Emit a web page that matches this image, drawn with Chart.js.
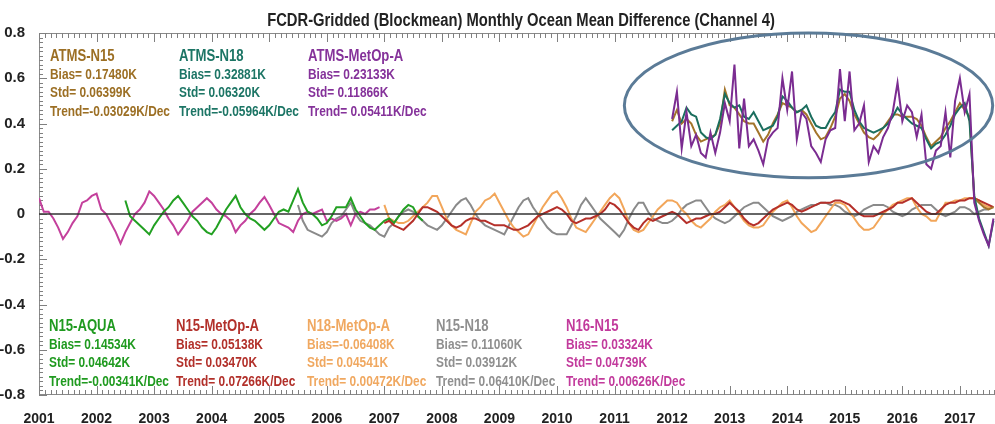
<!DOCTYPE html>
<html>
<head>
<meta charset="utf-8">
<script src="https://cdn.jsdelivr.net/npm/chart.js@4.4.1/dist/chart.umd.min.js"></script>
<style>
html, body { margin: 0; padding: 0; background: #fff; }
#wrap { width: 995px; height: 424px; }
</style>
</head>
<body>
<div id="wrap"><canvas id="diffChart"></canvas></div>
<script>
// axis ticks
const years = [2001,2002,2003,2004,2005,2006,2007,2008,2009,2010,2011,2012,2013,2014,2015,2016,2017];
const yTicks = [-0.8,-0.6,-0.4,-0.2,0,0.2,0.4,0.6,0.8];

// monthly series, index 0 = Jan 2001
const n16n15Start = 0;
const n16n15 = [0.07,0.01,0.01,-0.02,-0.06,-0.11,-0.08,-0.04,-0.01,0.05,0.06,0.08,
  0.09,0.02,0.0,-0.04,-0.08,-0.13,-0.08,-0.04,0.0,0.02,0.05,0.10,
  0.08,0.05,0.02,-0.02,-0.05,-0.09,-0.06,-0.03,0.01,0.03,0.05,0.07,
  0.05,0.02,0.0,-0.01,-0.03,-0.08,-0.05,-0.03,0.0,0.02,0.05,0.075,
  0.04,0.0,-0.04,-0.05,-0.06,-0.08,-0.03,0.0,0.01,0.0,0.01,0.02,
  -0.03,-0.02,-0.03,-0.02,0.0,-0.05,0.0,0.01,0.0,0.02,0.02,0.03];

const n15aquaStart = 18;
const n15aqua = [0.06,-0.01,-0.03,-0.05,-0.07,-0.09,-0.05,-0.02,0.01,0.03,0.06,0.08,
  0.05,0.02,-0.01,-0.03,-0.06,-0.08,-0.09,-0.06,-0.02,0.02,0.05,0.08,
  0.03,0.0,-0.02,-0.03,-0.05,-0.07,-0.05,-0.02,0.01,0.02,0.01,0.06,
  0.11,0.05,0.01,0.0,-0.02,-0.05,-0.04,-0.01,0.03,0.03,0.03,0.07,
  0.02,-0.01,-0.04,-0.06,-0.07,-0.05,-0.03,-0.02,-0.04,-0.01,0.02,0.04,
  0.03,-0.01,-0.03];

const n15n18Start = 54;
const n15n18 = [0.04,-0.03,-0.07,-0.08,-0.09,-0.10,-0.08,-0.04,-0.02,-0.01,0.02,0.05,
  0.0,-0.03,-0.04,-0.05,-0.07,-0.09,-0.10,-0.06,-0.04,-0.01,0.01,0.02,
  0.01,-0.01,-0.03,-0.05,-0.06,-0.07,-0.05,-0.02,0.01,0.04,0.06,0.07,
  0.04,0.0,-0.03,-0.05,-0.06,-0.07,-0.08,-0.09,-0.05,-0.01,0.03,0.06,
  0.07,0.03,0.0,-0.03,-0.06,-0.08,-0.09,-0.09,-0.09,-0.05,-0.01,0.04,
  0.07,0.04,0.01,-0.02,-0.04,-0.06,-0.08,-0.10,-0.07,-0.02,0.02,0.05,
  0.05,0.01,-0.02,-0.03,-0.04,-0.04,-0.03,-0.01,0.02,0.04,0.05,0.06,
  0.06,0.03,0.0,-0.02,-0.03,-0.04,-0.03,-0.01,0.01,0.03,0.04,0.05,
  0.05,0.03,0.01,-0.01,-0.02,-0.03,-0.02,-0.01,0.01,0.02,0.03,0.04,
  0.04,0.05,0.05,0.04,0.04,0.03,0.01,0.0,-0.01,0.0,0.02,0.03,
  0.04,0.04,0.04,0.03,0.01,0.0,-0.01,0.0,0.02,0.03,0.04,0.04,
  0.04,0.02,0.0,-0.01,0.0,0.01,0.03,0.03,0.02,0.0,0.01,0.02,0.02];

const n15metopaStart = 72;
const n15metopa = [-0.04,-0.03,-0.05,-0.06,-0.07,-0.05,-0.03,0.0,0.03,0.03,0.02,0.01,
  -0.01,-0.03,-0.05,-0.06,-0.05,-0.03,-0.02,-0.02,-0.03,-0.03,-0.04,-0.05,
  -0.05,-0.05,-0.06,-0.07,-0.07,-0.06,-0.05,-0.03,-0.01,0.0,0.01,0.02,
  0.03,0.02,0.0,-0.03,-0.04,-0.03,-0.02,-0.02,-0.01,0.0,0.02,0.05,
  0.04,0.02,-0.01,-0.04,-0.06,-0.07,-0.04,-0.02,-0.03,-0.02,-0.01,0.0,
  0.01,0.0,-0.02,-0.04,-0.03,-0.02,-0.02,-0.01,0.0,0.0,0.01,0.03,
  0.05,0.03,0.01,-0.02,-0.04,-0.05,-0.04,-0.02,0.0,0.02,0.03,0.04,
  0.05,0.04,0.02,0.01,0.02,0.03,0.04,0.05,0.05,0.05,0.06,0.06,
  0.05,0.04,0.02,0.0,-0.01,-0.01,-0.01,0.0,0.01,0.02,0.03,0.05,
  0.05,0.06,0.07,0.05,0.03,0.01,0.0,0.0,0.02,0.04,0.05,0.05,
  0.06,0.06,0.07,0.07,0.06,0.05,0.04,0.03];

const n18metopaStart = 72;
const n18metopa = [0.04,-0.02,-0.03,-0.04,-0.04,-0.03,-0.01,0.01,0.03,0.05,0.08,0.08,
  0.03,-0.02,-0.05,-0.07,-0.08,-0.09,-0.04,0.01,0.03,0.06,0.07,0.09,
  0.05,0.01,-0.03,-0.06,-0.08,-0.10,-0.09,-0.05,-0.01,0.03,0.06,0.09,
  0.10,0.07,0.03,-0.02,-0.06,-0.07,-0.08,-0.05,-0.02,0.01,0.04,0.07,
  0.09,0.07,0.02,-0.04,-0.07,-0.08,-0.07,-0.04,-0.01,0.02,0.04,0.06,
  0.06,0.05,0.02,0.0,-0.03,-0.05,-0.06,-0.04,-0.02,0.01,0.03,0.04,
  0.06,0.03,0.0,-0.03,-0.05,-0.06,-0.06,-0.05,-0.02,0.01,0.03,0.05,
  0.06,0.03,-0.01,-0.04,-0.06,-0.08,-0.07,-0.04,-0.01,0.02,0.05,0.05,
  0.04,0.01,-0.02,-0.05,-0.07,-0.07,-0.06,-0.03,0.0,0.02,0.04,0.05,
  0.06,0.07,0.07,0.03,0.0,-0.01,-0.03,-0.03,0.01,0.05,0.05,0.06,
  0.06,0.07,0.07,0.07,0.06,0.04,0.03,0.03];

const atmsStart = 132;
const atmsN15 = [0.41,0.46,0.40,0.42,0.40,0.35,0.32,0.33,0.34,0.35,0.40,0.55,
  0.48,0.47,0.44,0.41,0.40,0.40,0.36,0.32,0.35,0.40,0.44,0.49,
  0.48,0.47,0.45,0.46,0.44,0.40,0.36,0.33,0.34,0.38,0.43,0.51,
  0.53,0.50,0.44,0.40,0.36,0.34,0.33,0.35,0.38,0.41,0.44,0.44,
  0.43,0.43,0.43,0.42,0.39,0.34,0.30,0.32,0.34,0.38,0.41,0.45,
  0.49,0.46,0.43,0.07,0.05,0.03,0.02,0.03];
const atmsN18 = [0.37,0.39,0.41,0.47,0.44,0.43,0.36,0.34,0.33,0.35,0.42,0.53,
  0.49,0.47,0.48,0.43,0.42,0.45,0.41,0.37,0.38,0.39,0.43,0.52,
  0.50,0.47,0.45,0.46,0.48,0.43,0.39,0.38,0.38,0.42,0.45,0.55,
  0.54,0.54,0.46,0.41,0.38,0.37,0.36,0.37,0.38,0.40,0.43,0.47,
  0.44,0.42,0.40,0.39,0.38,0.33,0.29,0.31,0.32,0.35,0.39,0.44,
  0.47,0.49,0.41,0.08,-0.02,-0.08,-0.14,-0.03];
const atmsMetopA = [0.42,0.54,0.29,0.45,0.30,0.35,0.27,0.25,0.36,0.27,0.36,0.49,
  0.41,0.66,0.29,0.51,0.30,0.33,0.28,0.22,0.33,0.36,0.38,0.60,
  0.46,0.63,0.33,0.45,0.42,0.30,0.27,0.23,0.33,0.37,0.38,0.64,
  0.41,0.63,0.37,0.40,0.48,0.23,0.30,0.27,0.34,0.38,0.45,0.58,
  0.41,0.48,0.45,0.34,0.44,0.22,0.20,0.28,0.30,0.45,0.25,0.50,
  0.60,0.45,0.53,0.05,-0.03,-0.09,-0.14,-0.02];

// legend statistics
const topNames = ['ATMS-N15','ATMS-N18','ATMS-MetOp-A'];
const topBias = ['0.17480K','0.32881K','0.23133K'];
const topStd = ['0.06399K','0.06320K','0.11866K'];
const topTrend = ['-0.03029K/Dec','-0.05964K/Dec','0.05411K/Dec'];
const botNames = ['N15-AQUA','N15-MetOp-A','N18-MetOp-A','N15-N18','N16-N15'];
const botBias = ['0.14534K','0.05138K','-0.06408K','0.11060K','0.03324K'];
const botStd = ['0.04642K','0.03470K','0.04541K','0.03912K','0.04739K'];
const botTrend = ['-0.00341K/Dec','0.07266K/Dec','0.00472K/Dec','0.06410K/Dec','0.00626K/Dec'];

const FONT = '"Liberation Sans", Arial, sans-serif';
const NARROW = 0.82;
const topColors = ['#9c6f24', '#1c7565', '#85329a'];
const botColors = ['#1f9a1f', '#b2302a', '#f0a860', '#8f8f8f', '#c23a9c'];
const TITLE = 'FCDR-Gridded (Blockmean) Monthly Ocean Mean Difference (Channel 4)';

function toPoints(start, vals) {
  return vals.map((v, k) => ({ x: 2001 + (start + k) / 12, y: v }));
}

function line(label, start, vals, color) {
  return {
    label: label,
    data: toPoints(start, vals),
    borderColor: color,
    borderWidth: 2,
    pointRadius: 0,
    tension: 0,
    fill: false
  };
}

// condensed text, like the narrow font of the original
function narrowText(ctx, text, x, y, size, color, align) {
  ctx.save();
  ctx.font = 'bold ' + size + 'px ' + FONT;
  ctx.fillStyle = color;
  ctx.textAlign = align || 'left';
  ctx.textBaseline = 'middle';
  ctx.translate(x, y);
  ctx.scale(NARROW, 1);
  ctx.fillText(text, 0, 0);
  ctx.restore();
}

const decor = {
  id: 'decor',
  beforeDatasetsDraw(chart) {
    const { ctx, chartArea: a, scales: { x, y } } = chart;
    ctx.save();
    ctx.strokeStyle = '#8a8a8a';
    ctx.lineWidth = 1;
    ctx.beginPath();
    ctx.moveTo(a.right, a.top + 0.5); ctx.lineTo(a.left + 0.5, a.top + 0.5);
    ctx.lineTo(a.left + 0.5, a.bottom - 0.5); ctx.lineTo(a.right, a.bottom - 0.5);
    ctx.stroke();
    ctx.strokeStyle = '#808080';
    ctx.beginPath();
    for (let k = 0; 2001 + k / 10 <= x.max; k++) {
      const px = Math.round(x.getPixelForValue(2001 + k / 10)) + 0.5;
      const len = k % 10 === 0 ? 9 : 5;
      ctx.moveTo(px, a.bottom); ctx.lineTo(px, a.bottom - len);
      ctx.moveTo(px, a.top); ctx.lineTo(px, a.top + len);
    }
    for (let k = 0; k <= 80; k++) {
      const py = Math.round(y.getPixelForValue(-0.8 + k * 0.02)) + 0.5;
      const len = k % 10 === 0 ? 8 : 4;
      ctx.moveTo(a.left, py); ctx.lineTo(a.left + len, py);
    }
    ctx.stroke();
    ctx.restore();
  },
  afterDatasetsDraw(chart) {
    const { ctx, chartArea: a, scales: { x, y } } = chart;
    ctx.save();
    // zero line
    const y0 = y.getPixelForValue(0);
    ctx.strokeStyle = '#333';
    ctx.lineWidth = 1.5;
    ctx.beginPath(); ctx.moveTo(a.left, y0); ctx.lineTo(a.right, y0); ctx.stroke();

    // highlight ellipse around the ATMS period
    const cx = x.getPixelForValue(2014.37), cy = y.getPixelForValue(0.48);
    const rx = x.getPixelForValue(2014.37 + 3.2) - cx;
    const ry = cy - y.getPixelForValue(0.48 + 0.32);
    ctx.strokeStyle = '#5b7b97';
    ctx.lineWidth = 3;
    ctx.beginPath(); ctx.ellipse(cx, cy, rx, ry, 0, 0, Math.PI * 2); ctx.stroke();
    ctx.restore();

    // title
    narrowText(ctx, TITLE, (a.left + a.right) / 2 + 4, 21, 18, '#222', 'center');

    // statistics blocks
    const sign = s => (s[0] === '-' ? s : ' ' + s);
    const block = (x0, y0, name, bias, std, trend, color) => {
      narrowText(ctx, name, x0, y0, 16, color);
      narrowText(ctx, 'Bias=' + sign(bias), x0, y0 + 18, 14.5, color);
      narrowText(ctx, 'Std= ' + std, x0, y0 + 36, 14.5, color);
      narrowText(ctx, 'Trend=' + sign(trend), x0, y0 + 55, 14.5, color);
    };
    const topX = [50, 179, 308];
    topNames.forEach((n, i) => block(topX[i], a.top + 24, n, topBias[i], topStd[i], topTrend[i], topColors[i]));
    const botX = [49, 176, 307, 436, 566];
    botNames.forEach((n, i) => block(botX[i], a.top + 294, n, botBias[i], botStd[i], botTrend[i], botColors[i]));
  }
};

Chart.defaults.font.family = FONT;
Chart.defaults.font.weight = 'bold';
Chart.defaults.color = '#222';

new Chart(document.getElementById('diffChart'), {
  type: 'line',
  data: {
    datasets: [
      line('ATMS-MetOp-A', atmsStart, atmsMetopA, '#7b2c91'),
      line('ATMS-N18', atmsStart, atmsN18, '#1b6e5e'),
      line('ATMS-N15', atmsStart, atmsN15, '#a3742a'),
      line('N15-MetOp-A', n15metopaStart, n15metopa, '#b5302a'),
      line('N15-AQUA', n15aquaStart, n15aqua, '#22a022'),
      line('N16-N15', n16n15Start, n16n15, '#c4409c'),
      line('N18-MetOp-A', n18metopaStart, n18metopa, '#f2a65a'),
      line('N15-N18', n15n18Start, n15n18, '#8a8a8a')
    ]
  },
  options: {
    responsive: true,
    maintainAspectRatio: false,
    animation: false,
    layout: { padding: { top: 33, right: 0, left: 0, bottom: 0 } },
    plugins: {
      legend: { display: false },
      tooltip: { enabled: false },
      title: { display: false }
    },
    scales: {
      x: {
        type: 'linear',
        min: 2001,
        max: 2017.61,
        afterBuildTicks: s => { s.ticks = years.map(v => ({ value: v })); },
        afterFit: s => { s.height = 29; },
        grid: { display: false },
        border: { display: false },
        ticks: {
          autoSkip: false,
          maxRotation: 0,
          padding: 8,
          font: { size: 14, weight: 'bold' },
          color: '#222',
          callback: v => String(v)
        }
      },
      y: {
        min: -0.8,
        max: 0.8,
        afterBuildTicks: s => { s.ticks = yTicks.map(v => ({ value: v })); },
        afterFit: s => { s.width = 39; },
        grid: { display: false },
        border: { display: false },
        ticks: {
          padding: 6,
          font: { size: 15, weight: 'bold' },
          color: '#222',
          callback: v => (Math.abs(v) < 1e-9 ? '0' : v.toFixed(1))
        }
      }
    }
  },
  plugins: [decor]
});
</script>
</body>
</html>
